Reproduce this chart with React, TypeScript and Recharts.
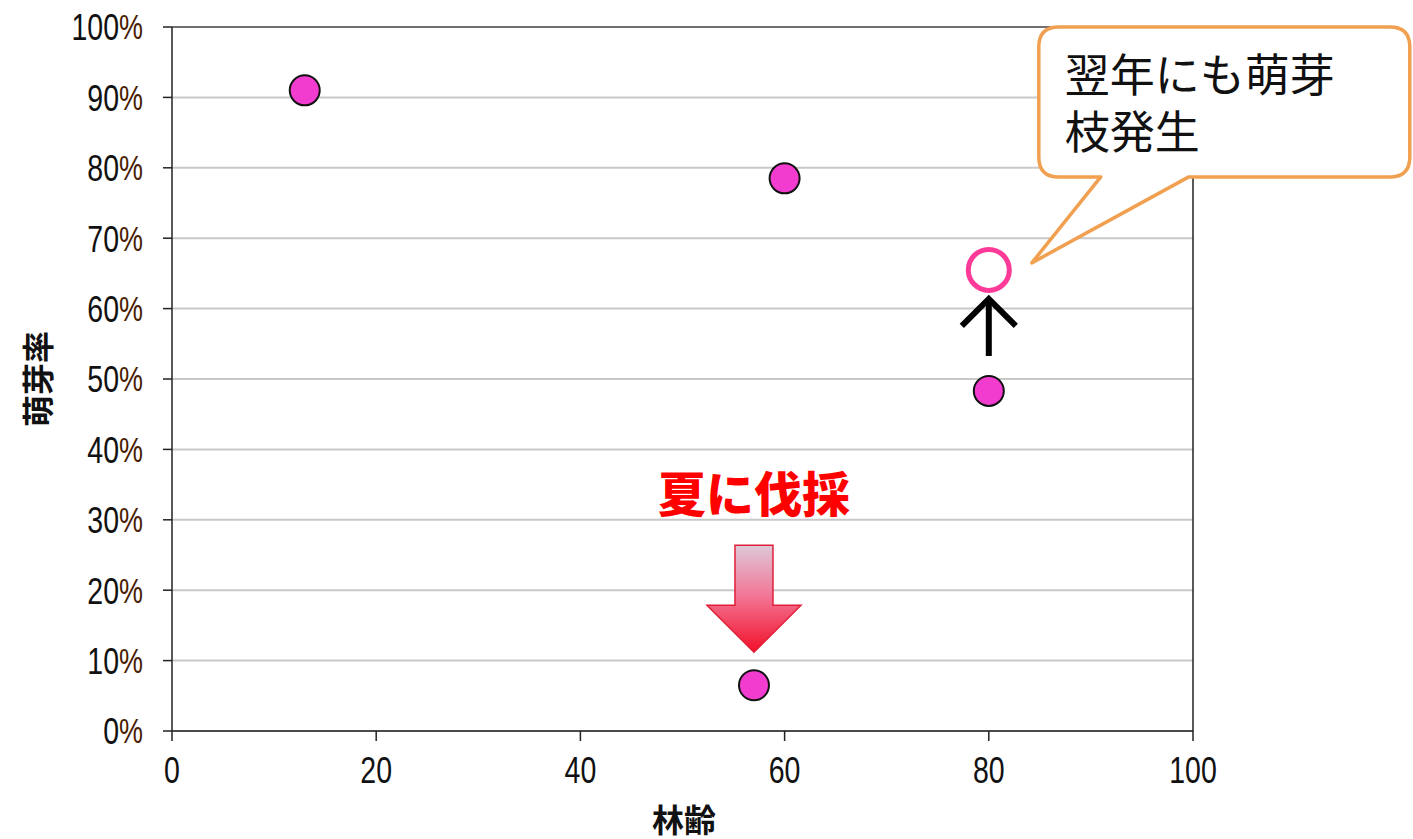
import React from 'react';
import {
  ScatterChart,
  Scatter,
  XAxis,
  YAxis,
  CartesianGrid,
  ReferenceLine,
  ReferenceDot,
} from 'recharts';

// stand age (years) and sprouting rate for each plot
const standAges = [13, 60, 80, 57];
const sproutRates = [0.91, 0.785, 0.483, 0.065];

// the 80-year plot measured again the following year
const nextYearAges = [80];
const nextYearRates = [0.655];

const xTicks = [0, 20, 40, 60, 80, 100];
const yTicks = [0, 0.1, 0.2, 0.3, 0.4, 0.5, 0.6, 0.7, 0.8, 0.9, 1];

const sproutData = standAges.map((age, i) => ({ age, rate: sproutRates[i] }));
const nextYearData = nextYearAges.map((age, i) => ({ age, rate: nextYearRates[i] }));

const NUM_FONT = '"Liberation Sans", Arial, sans-serif';
const JP_FONT = '"Noto Sans CJK JP", "Noto Sans", sans-serif';
const AXIS = '#222';

// narrow-looking numbers: squeeze the glyphs horizontally
const PercentTick = ({ x, y, payload }: any) => (
  <g transform={`translate(${x},${y}) scale(0.77,1)`}>
    <text x={0} y={0} textAnchor="end" dominantBaseline="central" fontFamily={NUM_FONT} fontSize={37}>
      <tspan fill="#111">{Math.round(payload.value * 100)}</tspan>
      <tspan fill="#4a1c00" fontSize={35}>%</tspan>
    </text>
  </g>
);

const AgeTick = ({ x, y, payload }: any) => (
  <g transform={`translate(${x},${y}) scale(0.77,1)`}>
    <text x={0} y={28} textAnchor="middle" fontFamily={NUM_FONT} fontSize={37} fill="#111">
      {payload.value}
    </text>
  </g>
);

// filled magenta marker
const Dot = ({ cx, cy }: any) => (
  <circle cx={cx} cy={cy} r={15} fill="#f23ccf" stroke="#111" strokeWidth={2} />
);

// hollow marker for the following year
const Ring = ({ cx, cy }: any) => (
  <circle cx={cx} cy={cy} r={20.5} fill="none" stroke="#fd3a98" strokeWidth={5} />
);

// red gradient arrow + label above the summer-cut plot
const SummerCut = ({ cx, cy }: any) => {
  const tip = cy - 33;
  const headTop = tip - 47;
  const shaftTop = tip - 107;
  return (
    <g>
      <defs>
        <linearGradient id="cutArrow" x1="0" y1="0" x2="0" y2="1">
          <stop offset="0%" stopColor="#ddc8d8" />
          <stop offset="45%" stopColor="#f27a99" />
          <stop offset="100%" stopColor="#f2102a" />
        </linearGradient>
      </defs>
      <path
        d={`M${cx - 19},${shaftTop} L${cx + 19},${shaftTop} L${cx + 19},${headTop} L${cx + 47},${headTop} L${cx},${tip} L${cx - 47},${headTop} L${cx - 19},${headTop} Z`}
        fill="url(#cutArrow)"
        stroke="#e0203a"
        strokeWidth={1.5}
      />
      <text x={cx} y={cy - 173} textAnchor="middle" fill="#f00" fontFamily={JP_FONT} fontWeight={900} fontSize={48}>
        夏に伐採
      </text>
    </g>
  );
};

// black arrow from the first-year value up to the next-year value
const UpArrow = ({ cx, cy }: any) => (
  <g fill="none" stroke="#000" strokeWidth={6}>
    <line x1={cx} y1={cy - 35} x2={cx} y2={cy - 92} />
    <polyline points={`${cx - 27},${cy - 65} ${cx},${cy - 92} ${cx + 27},${cy - 65}`} />
  </g>
);

// speech-bubble callout pointing at the hollow marker
const Callout = ({ cx, cy }: any) => {
  const tx = cx + 43;
  const ty = cy - 7;
  const l = cx + 50;
  const r = cx + 421;
  const t = cy - 243;
  const b = cy - 93;
  const rad = 20;
  const d = [
    `M${l + rad},${t}`,
    `L${r - rad},${t}`,
    `Q${r},${t} ${r},${t + rad}`,
    `L${r},${b - rad}`,
    `Q${r},${b} ${r - rad},${b}`,
    `L${cx + 200},${b}`,
    `L${tx},${ty}`,
    `L${cx + 112},${b}`,
    `L${l + rad},${b}`,
    `Q${l},${b} ${l},${b - rad}`,
    `L${l},${t + rad}`,
    `Q${l},${t} ${l + rad},${t}`,
    'Z',
  ].join(' ');
  return (
    <g>
      <path d={d} fill="#fff" stroke="#f0a050" strokeWidth={3.5} strokeLinejoin="round" />
      <text x={l + 26} y={cy - 178} fontFamily={JP_FONT} fontSize={45} fill="#111">
        翌年にも萌芽
      </text>
      <text x={l + 26} y={cy - 121} fontFamily={JP_FONT} fontSize={45} fill="#111">
        枝発生
      </text>
    </g>
  );
};

export default function App() {
  return (
    <div style={{ position: 'absolute', left: 0, top: 0, background: '#fff' }}>
      <ScatterChart width={1413} height={839} margin={{ top: 27, right: 220, left: 0, bottom: 0 }}>
        <CartesianGrid vertical={false} stroke="#c8c8c8" strokeWidth={2} />
        <XAxis
          type="number"
          dataKey="age"
          domain={[0, 100]}
          ticks={xTicks}
          height={108}
          stroke={AXIS}
          strokeWidth={1.5}
          tickSize={10}
          tickMargin={14}
          tick={<AgeTick />}
          label={{
            content: () => (
              <text x={684} y={832} textAnchor="middle" fontFamily={JP_FONT} fontWeight={700} fontSize={32} fill="#111">
                林齢
              </text>
            ),
          }}
        />
        <YAxis
          type="number"
          dataKey="rate"
          domain={[0, 1]}
          ticks={yTicks}
          width={172}
          stroke={AXIS}
          strokeWidth={1.5}
          tickSize={9}
          tickMargin={20}
          tick={<PercentTick />}
          label={{
            content: () => (
              <text
                x={36}
                y={379}
                transform="rotate(-90 36 379)"
                textAnchor="middle"
                dominantBaseline="central"
                fontFamily={JP_FONT}
                fontWeight={700}
                fontSize={32}
                fill="#111"
              >
                萌芽率
              </text>
            ),
          }}
        />
        <ReferenceLine y={1} stroke="#555" strokeWidth={1.5} />
        <ReferenceLine x={100} stroke={AXIS} strokeWidth={1.5} />
        <Scatter data={sproutData} shape={<Dot />} isAnimationActive={false} />
        <Scatter data={nextYearData} shape={<Ring />} isAnimationActive={false} />
        <ReferenceDot x={standAges[3]} y={sproutRates[3]} ifOverflow="visible" shape={<SummerCut />} />
        <ReferenceDot x={standAges[2]} y={sproutRates[2]} ifOverflow="visible" shape={<UpArrow />} />
        <ReferenceDot x={nextYearAges[0]} y={nextYearRates[0]} ifOverflow="visible" shape={<Callout />} />
      </ScatterChart>
    </div>
  );
}
